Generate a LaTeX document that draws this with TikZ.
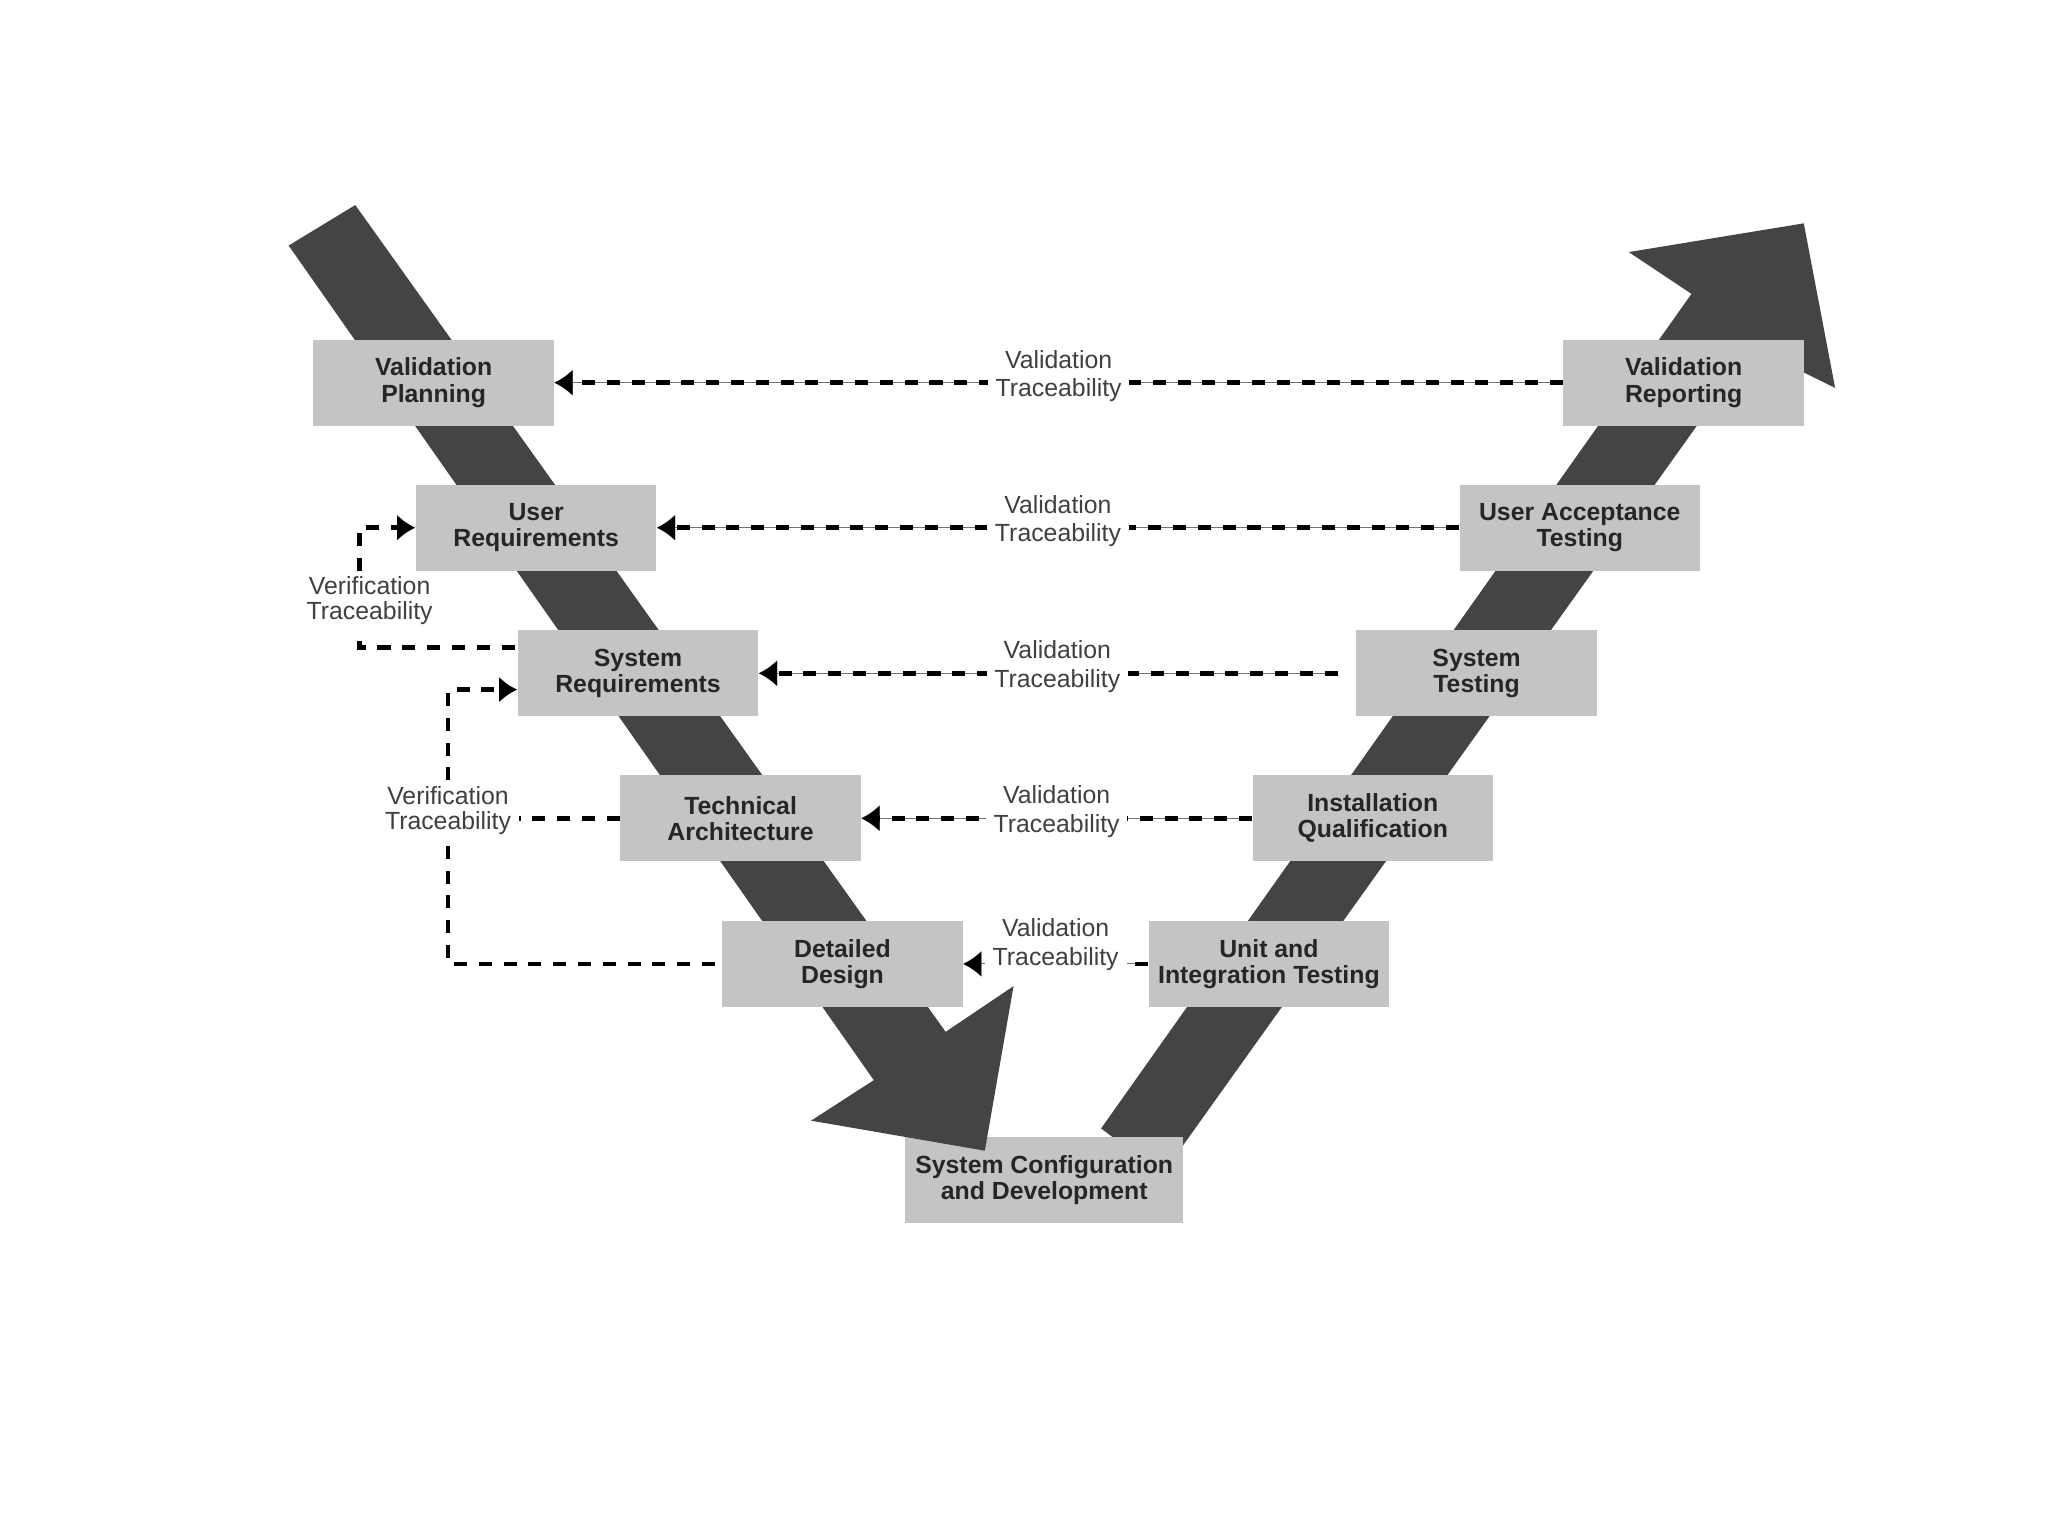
\documentclass[tikz,border=0pt]{standalone}
\usepackage{fontspec}
\setmainfont{Liberation Sans}
\usetikzlibrary{arrows.meta}
\definecolor{bandgray}{RGB}{68,68,68}
\definecolor{boxgray}{RGB}{196,196,196}

\begin{document}
\begin{tikzpicture}[x=0.5pt,y=-0.5pt,
        phase/.style={rectangle,fill=boxgray,minimum width=92pt,minimum height=33pt,inner sep=0pt,align=center,text=black!85,font=\bfseries\fontsize{9.5}{10}\selectfont},
        trace/.style={fill=white,inner xsep=3pt,inner ysep=2pt,align=center,text=black!75,font=\fontsize{9.5}{11}\selectfont},
        vtrace/.style={trace,font=\fontsize{9.5}{9.75}\selectfont},
        valid/.style={line width=1.8pt,dash pattern=on 5pt off 4.5pt,preaction={draw,solid,line width=0.4pt,black!55}},
        verif/.style={line width=1.8pt,dash pattern=on 5pt off 4.5pt},
        backarrow/.style={-{Latex[length=7pt,width=10pt]}}]
        \useasboundingbox (0,0) rectangle (1568,1176);
        \fill[bandgray] (843,864) -- (1295,225) -- (1247,193) -- (1381,171) -- (1405,297) -- (1342,266) -- (890,899) -- cycle;
        \node[phase,minimum width=106.5pt] (scd) at (799.5,903.5) {System Configuration\\and Development};
        \fill[bandgray] (221,188) -- (669,827) -- (621,858) -- (754,881) -- (776,755) -- (724,790) -- (272,157) -- cycle;
        \node[phase] (vp) at (332,293) {Validation\\Planning};
        \node[phase] (ur) at (410.5,404) {User\\Requirements};
        \node[phase] (sr) at (488.5,515.5) {System\\Requirements};
        \node[phase] (ta) at (567,626.5) {Technical\\Architecture};
        \node[phase] (dd) at (645,738) {Detailed\\Design};
        \node[phase] (vr) at (1289,293) {Validation\\Reporting};
        \node[phase] (uat) at (1209.5,404) {User Acceptance\\Testing};
        \node[phase] (st) at (1130.5,515.5) {System\\Testing};
        \node[phase] (iq) at (1051,626.5) {Installation\\Qualification};
        \node[phase] (uit) at (971.5,738) {Unit and\\Integration Testing};
        \draw[valid,backarrow] (vr.west) -- (vp.east) node[midway,trace,yshift=2.5pt] {Validation\\Traceability};
        \draw[valid,backarrow] (uat.west) -- (ur.east) node[midway,trace,yshift=2.5pt] {Validation\\Traceability};
        \draw[valid,backarrow,shorten <=7pt] (st.west) -- (sr.east) node[midway,trace,yshift=2.5pt] {Validation\\Traceability};
        \draw[valid,backarrow] (iq.west) -- (ta.east) node[midway,trace,yshift=2.5pt] {Validation\\Traceability};
        \draw[valid,backarrow] (uit.west) -- (dd.east) node[midway,trace,yshift=7.5pt] {Validation\\Traceability};
        \node[vtrace] (vt1) at (283,460) {Verification\\Traceability};
        \node[vtrace] (vt2) at (343,620.5) {Verification\\Traceability};
        \draw[verif] ([xshift=-4pt,yshift=-4pt]vt1.south) |- ([yshift=9.75pt]sr.west);
        \draw[verif,backarrow] ([xshift=-4pt]vt1.north) |- (ur.west);
        \draw[verif] ([yshift=-2pt]vt2.south) |- (dd.west);
        \draw[verif,backarrow] (vt2.north) |- ([yshift=-6.25pt]sr.west);
        \draw[verif] (ta.west) -- (vt2.east |- ta.west);
\end{tikzpicture}
\end{document}
